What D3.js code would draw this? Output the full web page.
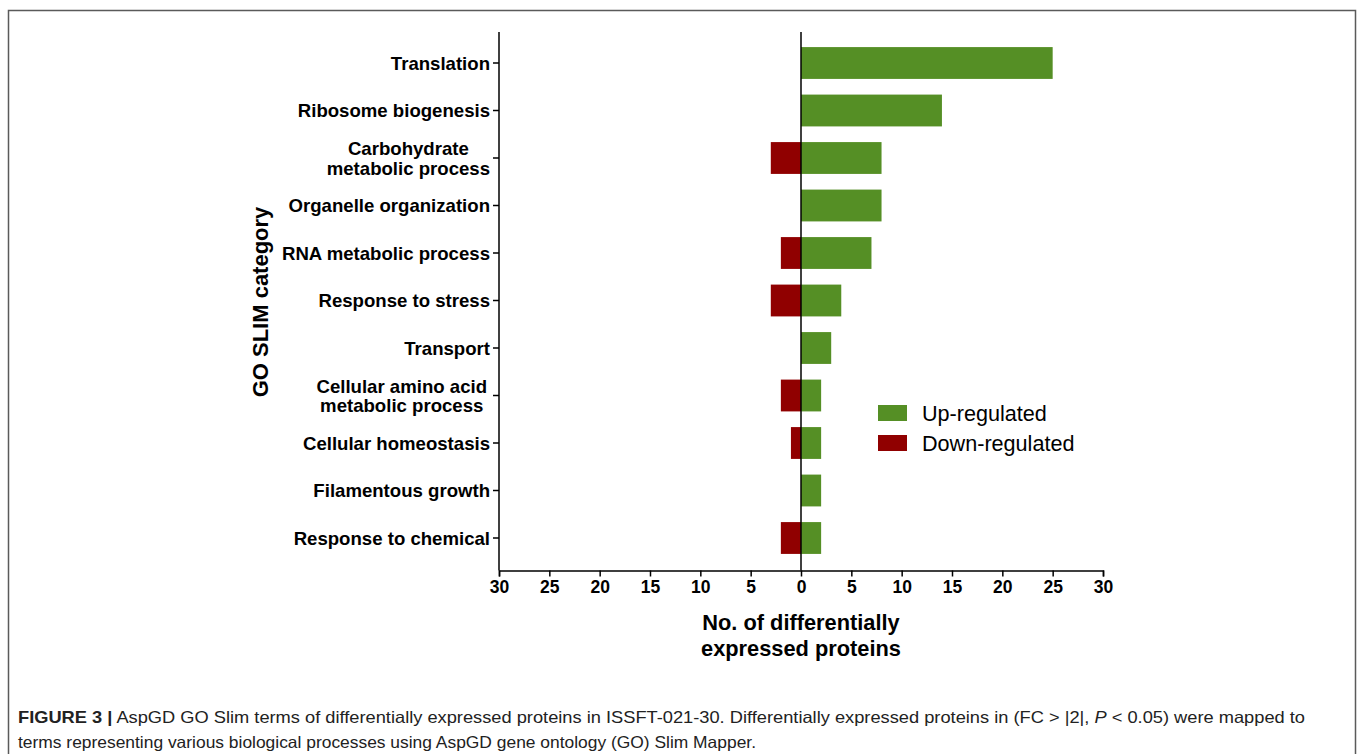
<!DOCTYPE html>
<html>
<head>
<meta charset="utf-8">
<script src="https://cdn.jsdelivr.net/npm/d3@7/dist/d3.min.js"></script>
<style>
  html, body { margin: 0; padding: 0; background: #fff; }
  svg { display: block; }
</style>
</head>
<body>
<script>
const categories = [
  "Translation",
  "Ribosome biogenesis",
  "Carbohydrate\nmetabolic process",
  "Organelle organization",
  "RNA metabolic process",
  "Response to stress",
  "Transport",
  "Cellular amino acid\nmetabolic process",
  "Cellular homeostasis",
  "Filamentous growth",
  "Response to chemical"
];
const upRegulated   = [25, 14, 8, 8, 7, 4, 3, 2, 2, 2, 2];
const downRegulated = [0, 0, 3, 0, 2, 3, 0, 2, 1, 0, 2];
const xTicks = [-30, -25, -20, -15, -10, -5, 0, 5, 10, 15, 20, 25, 30];
const seriesNames = ["Up-regulated", "Down-regulated"];
const seriesColors = ["#558f25", "#900000"];
const captionBold = "FIGURE 3 |";
const captionLine2 = "terms representing various biological processes using AspGD gene ontology (GO) Slim Mapper.";

const W = 1360, H = 754;
const svg = d3.select("body").append("svg").attr("width", W).attr("height", H);

// frame
svg.append("path")
  .attr("d", "M8.5,760 L8.5,10.5 L1355.5,10.5 L1355.5,760")
  .attr("fill", "none").attr("stroke", "#5a5a5a").attr("stroke-width", 1.5);

const x = d3.scaleLinear().domain([-30, 30]).range([499, 1103]);
const y = d3.scaleBand().domain(categories).range([39.25, 561.75]).paddingInner(0.33).paddingOuter(0.165);
const axisY = 570.5;
const font = "'Liberation Sans', Arial, Helvetica, sans-serif";
const catSize = 18.6;

// bars
const g = svg.append("g");
categories.forEach((c, i) => {
  if (upRegulated[i] > 0) {
    g.append("rect")
      .attr("x", x(0)).attr("y", y(c))
      .attr("width", x(upRegulated[i]) - x(0)).attr("height", y.bandwidth())
      .attr("fill", seriesColors[0]);
  }
  if (downRegulated[i] > 0) {
    g.append("rect")
      .attr("x", x(-downRegulated[i])).attr("y", y(c))
      .attr("width", x(0) - x(-downRegulated[i])).attr("height", y.bandwidth())
      .attr("fill", seriesColors[1]);
  }
});

// zero line
svg.append("line")
  .attr("x1", x(0)).attr("x2", x(0)).attr("y1", 32).attr("y2", axisY)
  .attr("stroke", "#000").attr("stroke-width", 1.5);

// x axis
const xAxis = svg.append("g").attr("transform", `translate(0,${axisY})`)
  .call(d3.axisBottom(x).tickValues(xTicks).tickSize(6).tickPadding(4).tickFormat(d => Math.abs(d)));
xAxis.select(".domain").attr("stroke-width", 1.5);
xAxis.selectAll(".tick line").attr("stroke-width", 1.5);
xAxis.selectAll("text")
  .attr("font-family", font).attr("font-weight", "bold").attr("font-size", 17.5).attr("fill", "#000");

// y axis
const yAxisG = svg.append("g").attr("transform", `translate(${x(-30)},0)`)
  .call(d3.axisLeft(y).tickSize(6).tickFormat(""));
yAxisG.select(".domain").attr("d", `M0,32V${axisY}`).attr("stroke-width", 1.5);
yAxisG.selectAll(".tick line").attr("stroke-width", 1.5);

// category labels
categories.forEach(c => {
  const lines = c.split("\n");
  const cy = y(c) + y.bandwidth() / 2;
  const t = svg.append("text")
    .attr("font-family", font).attr("font-weight", "bold").attr("font-size", catSize)
    .attr("fill", "#000");
  if (lines.length === 1) {
    t.attr("x", 490).attr("y", cy + 6.5).attr("text-anchor", "end").text(lines[0]);
  } else {
    const tmp = svg.append("text").attr("font-family", font).attr("font-weight", "bold").attr("font-size", catSize);
    const widths = lines.map(l => { tmp.text(l); return tmp.node().getComputedTextLength(); });
    tmp.remove();
    const maxW = Math.max(...widths);
    const cx = 490 - maxW / 2 + (c.startsWith("Cellular") ? -3 : 0);
    lines.forEach((l, k) => {
      t.append("tspan").attr("x", cx).attr("y", cy - 3 + k * 19.5)
        .attr("text-anchor", "middle").text(l);
    });
  }
});

// y title
svg.append("text")
  .attr("transform", "translate(268,302) rotate(-90)")
  .attr("text-anchor", "middle")
  .attr("font-family", font).attr("font-weight", "bold").attr("font-size", 22)
  .text("GO SLIM category");

// x title
const xt = svg.append("text").attr("text-anchor", "middle")
  .attr("font-family", font).attr("font-weight", "bold").attr("font-size", 21.8);
xt.append("tspan").attr("x", x(0)).attr("y", 630).text("No. of differentially");
xt.append("tspan").attr("x", x(0)).attr("y", 656).text("expressed proteins");

// legend
const leg = svg.append("g");
seriesNames.forEach((s, i) => {
  leg.append("rect").attr("x", 878).attr("y", 405 + i * 30).attr("width", 29).attr("height", 16)
    .attr("fill", seriesColors[i]);
  leg.append("text").attr("x", 922).attr("y", 421 + i * 30)
    .attr("font-family", font).attr("font-size", 21.6).attr("fill", "#000").text(s);
});

// caption
const cap1 = svg.append("text").attr("x", 18).attr("y", 723)
  .attr("font-family", font).attr("font-size", 16.5).attr("fill", "#222")
  .attr("textLength", 1287).attr("lengthAdjust", "spacingAndGlyphs");
cap1.append("tspan").attr("font-weight", "bold").text(captionBold);
cap1.append("tspan").text(" AspGD GO Slim terms of differentially expressed proteins in ISSFT-021-30. Differentially expressed proteins in (FC > |2|, ");
cap1.append("tspan").attr("font-style", "italic").text("P");
cap1.append("tspan").text(" < 0.05) were mapped to");
svg.append("text").attr("x", 18).attr("y", 748)
  .attr("font-family", font).attr("font-size", 16.5).attr("fill", "#222")
  .attr("textLength", 738).attr("lengthAdjust", "spacingAndGlyphs")
  .text(captionLine2);
</script>
</body>
</html>
